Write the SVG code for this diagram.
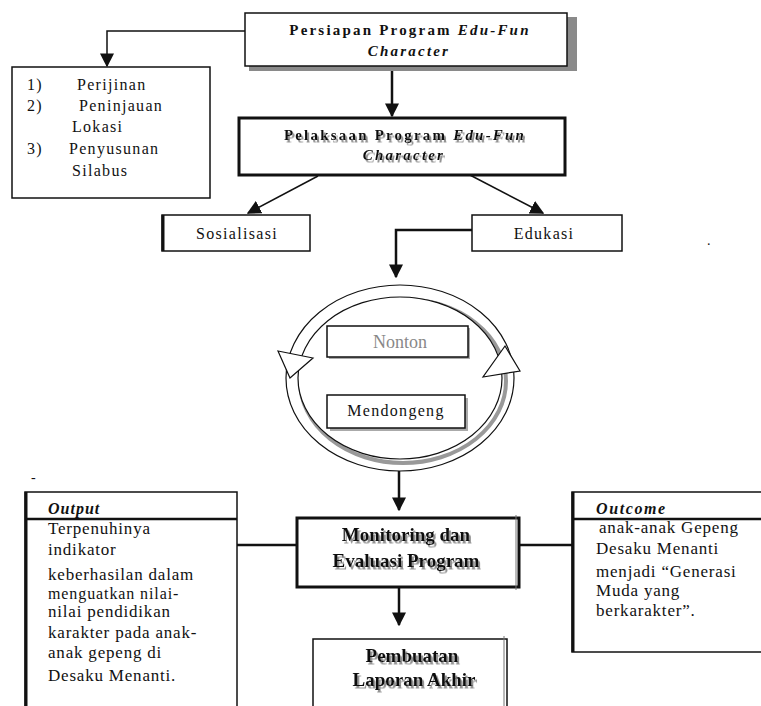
<svg xmlns="http://www.w3.org/2000/svg" width="761" height="706" viewBox="0 0 761 706" font-family="'Liberation Serif', 'Times New Roman', serif">
<defs>
<style>
text{font-family:'Liberation Serif','Times New Roman',serif;fill:#111}
.box{fill:#fff;stroke:#111;stroke-width:1.5}
.thick{fill:#fff;stroke:#111;stroke-width:3}
.shadow{fill:#8a8a8a}
.ln{fill:none;stroke:#111;stroke-width:1.5}
.lnt{fill:none;stroke:#111;stroke-width:2.5}
.hd{font-weight:bold;font-size:15px;letter-spacing:2.2px}
.lbl{font-size:16px;letter-spacing:1.3px}
.body{font-size:17px;letter-spacing:0.8px}
.big{font-size:19px;font-weight:bold}
.blur{filter:url(#ts)}
</style>
<filter id="ts" x="-10%" y="-30%" width="120%" height="160%">
<feDropShadow dx="2" dy="2.5" stdDeviation="0.6" flood-color="#888" flood-opacity="0.9"/>
</filter>
<marker id="ahb" viewBox="0 0 10 10" refX="9" refY="5" markerWidth="14" markerHeight="14" markerUnits="userSpaceOnUse" orient="auto">
<path d="M0,0 L10,5 L0,10 z" fill="#111"/>
</marker>
</defs>
<rect width="761" height="706" fill="#fff"/>

<g id="connectors">
<polyline class="ln" points="245,31 107,31 107,66" marker-end="url(#ahb)"/>
<line class="lnt" x1="392" y1="67" x2="392" y2="116" marker-end="url(#ahb)"/>
<line class="ln" x1="318" y1="176" x2="248" y2="213" marker-end="url(#ahb)"/>
<line class="ln" x1="468" y1="174" x2="543" y2="213" marker-end="url(#ahb)"/>
<polyline class="lnt" points="472,230 396,230 396,277" marker-end="url(#ahb)"/>
<line class="ln" x1="392" y1="357" x2="392" y2="395"/>
<line class="lnt" x1="399" y1="471" x2="399" y2="510" marker-end="url(#ahb)"/>
<line class="lnt" x1="399" y1="588" x2="399" y2="625" marker-end="url(#ahb)"/>
<line class="lnt" x1="233" y1="545" x2="297" y2="545"/>
<line class="lnt" x1="519" y1="545" x2="572" y2="545"/>
</g>

<g id="persiapan">
<rect class="shadow" x="249" y="17" width="328" height="54"/>
<rect class="box" x="245" y="13" width="322" height="53"/>
<text class="hd" x="410" y="35" text-anchor="middle">Persiapan Program <tspan font-style="italic">Edu-Fun</tspan></text>
<text class="hd" x="409" y="56" text-anchor="middle" font-style="italic">Character</text>
</g>

<g id="persiapan-list">
<rect class="box" x="12" y="67" width="198" height="131"/>
<text class="lbl" x="27" y="90">1)</text><text class="lbl" x="77" y="90">Perijinan</text>
<text class="lbl" x="27" y="111">2)</text><text class="lbl" x="79" y="111">Peninjauan</text>
<text class="lbl" x="72" y="132">Lokasi</text>
<text class="lbl" x="27" y="154">3)</text><text class="lbl" x="69" y="154">Penyusunan</text>
<text class="lbl" x="72" y="176">Silabus</text>
</g>

<g id="pelaksaan">
<rect class="thick" x="239" y="118" width="326" height="57"/>
<text class="hd blur" x="405" y="140" text-anchor="middle">Pelaksaan Program <tspan font-style="italic">Edu-Fun</tspan></text>
<text class="hd blur" x="404" y="160" text-anchor="middle" font-style="italic">Character</text>
</g>

<g id="sosialisasi">
<rect class="box" x="162" y="215" width="148" height="36"/>
<line x1="163" y1="215" x2="163" y2="251" stroke="#111" stroke-width="3"/>
<text class="lbl" x="237" y="239" text-anchor="middle" letter-spacing="1.8">Sosialisasi</text>
</g>

<g id="edukasi">
<rect class="box" x="472" y="215" width="150" height="36"/>
<text class="lbl" x="544" y="239" text-anchor="middle" letter-spacing="1.8">Edukasi</text>
</g>

<text x="707" y="245" font-size="14">.</text>

<g id="cycle">
<ellipse cx="400" cy="378" rx="114" ry="93" fill="#fff" stroke="#111" stroke-width="1.2"/>
<ellipse cx="403" cy="381" rx="103" ry="82" fill="none" stroke="#999" stroke-width="4"/>
<ellipse cx="400" cy="378" rx="102" ry="81" fill="#fff" stroke="#111" stroke-width="1.2"/>
<polygon points="278,351 313,358 290,378" fill="#fff" stroke="#111" stroke-width="1.2"/>
<polygon points="505,346 520,371 483,377" fill="#fff" stroke="#111" stroke-width="1.2"/>
</g>

<g id="nonton">
<rect x="329" y="328" width="141" height="31" fill="#aaa"/>
<rect class="box" x="327" y="326" width="141" height="31"/>
<text x="400" y="348" text-anchor="middle" font-size="18" style="fill:#888">Nonton</text>
</g>

<g id="mendongeng">
<rect x="330" y="398" width="138" height="33" fill="#aaa"/>
<rect class="box" x="327" y="395" width="138" height="33"/>
<text class="lbl" x="396" y="416" text-anchor="middle">Mendongeng</text>
</g>

<g id="monitoring">
<rect class="thick" x="297" y="518" width="222" height="69"/>
<line x1="516" y1="515" x2="516" y2="590" stroke="#777" stroke-width="1"/>
<text class="big blur" x="406" y="541" text-anchor="middle">Monitoring dan</text>
<text class="big blur" x="406" y="567" text-anchor="middle">Evaluasi Program</text>
</g>

<g id="pembuatan">
<rect class="box" x="313" y="639" width="194" height="80"/>
<line x1="504" y1="636" x2="504" y2="706" stroke="#777" stroke-width="1"/>
<text class="big blur" x="412" y="662" text-anchor="middle">Pembuatan</text>
<text class="big blur" x="414" y="686" text-anchor="middle">Laporan Akhir</text>
</g>

<text x="31" y="482" font-size="14">-</text>

<g id="output">
<rect class="box" x="25" y="492" width="212" height="230"/>
<line x1="25" y1="519" x2="237" y2="519" stroke="#111" stroke-width="2.5"/>
<line x1="26" y1="492" x2="26" y2="706" stroke="#111" stroke-width="3"/>
<text x="48" y="514" font-size="16" font-weight="bold" font-style="italic" letter-spacing="1">Output</text>
<text class="body" x="48" y="534">Terpenuhinya</text>
<text class="body" x="48" y="555">indikator</text>
<text class="body" x="48" y="580">keberhasilan dalam</text>
<text x="48" y="599" font-size="16" letter-spacing="0.9">menguatkan nilai-</text>
<text class="body" x="48" y="617">nilai pendidikan</text>
<text class="body" x="48" y="638">karakter pada anak-</text>
<text class="body" x="48" y="658">anak gepeng di</text>
<text class="body" x="48" y="681">Desaku Menanti.</text>
</g>

<g id="outcome">
<rect class="box" x="572" y="492" width="200" height="160"/>
<line x1="572" y1="519" x2="761" y2="519" stroke="#111" stroke-width="2.5"/>
<line x1="573" y1="492" x2="573" y2="652" stroke="#111" stroke-width="3"/>
<text x="596" y="514" font-size="16" font-weight="bold" font-style="italic" letter-spacing="1.6">Outcome</text>
<text class="body" x="599" y="533">anak-anak Gepeng</text>
<text class="body" x="596" y="554">Desaku Menanti</text>
<text class="body" x="596" y="577">menjadi “Generasi</text>
<text class="body" x="596" y="596">Muda yang</text>
<text class="body" x="596" y="616">berkarakter”.</text>
</g>
</svg>
